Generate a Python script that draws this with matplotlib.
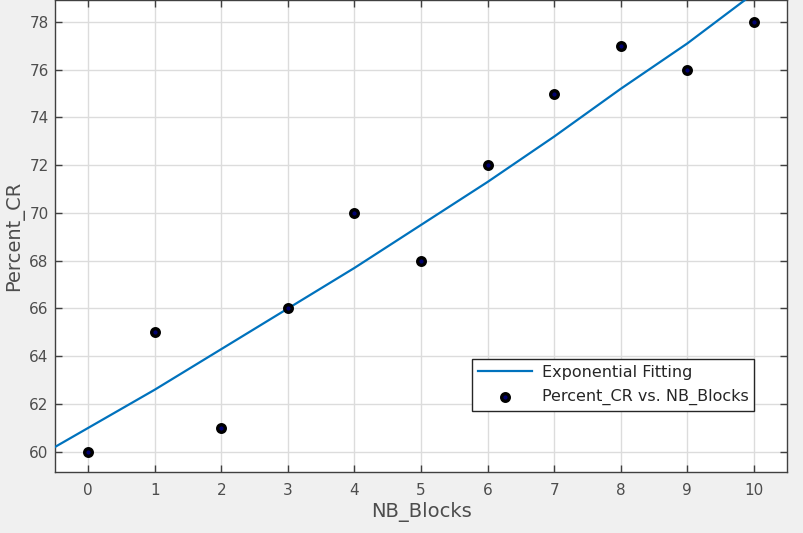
import matplotlib.pyplot as plt

# 散布データ
nb_blocks = [0, 1, 2, 3, 4, 5, 6, 7, 8, 9, 10]
percent_cr = [60, 65, 61, 66, 70, 68, 72, 75, 77, 76, 78]

# 指数フィット曲線
fit_x = [-0.5, 0, 1, 2, 3, 4, 5, 6, 7, 8, 9, 10]
fit_y = [60.2, 61.0, 62.6, 64.3, 66.0, 67.7, 69.5, 71.3, 73.2, 75.2, 77.1, 79.2]

x_ticks = [0, 1, 2, 3, 4, 5, 6, 7, 8, 9, 10]
y_ticks = [60, 62, 64, 66, 68, 70, 72, 74, 76, 78]

plt.rcParams['font.family'] = ['DejaVu Sans']

fig = plt.figure(figsize=(8.04, 5.33), dpi=100, facecolor='#f0f0f0')
ax = fig.add_axes([0.0684, 0.1144, 0.9106, 0.8856])

ax.plot(fit_x, fit_y, color='#0072bd', linewidth=1.6, label='Exponential Fitting', zorder=3)
ax.scatter(nb_blocks, percent_cr, s=30, facecolor='#000070', edgecolor='black',
           linewidths=2.4, label='Percent_CR vs. NB_Blocks', zorder=4)

ax.set_xlim(-0.5, 10.5)
ax.set_ylim(59.15, 78.92)
ax.set_xticks(x_ticks)
ax.set_yticks(y_ticks)

ax.grid(True, color='#dcdcdc', linewidth=1.0)
ax.set_axisbelow(True)
ax.tick_params(direction='in', top=True, right=True, length=5, width=1,
               colors='#404040', labelsize=11, labelcolor='#4d4d4d')
ax.tick_params(axis='x', pad=8)
ax.tick_params(axis='y', pad=4.5)
for s in ax.spines.values():
    s.set_color('#404040')
    s.set_linewidth(1.0)

ax.set_xlabel('NB_Blocks', fontsize=14, color='#4d4d4d', labelpad=3)
ax.set_ylabel('Percent_CR', fontsize=14, color='#4d4d4d', labelpad=4)

leg = ax.legend(loc='lower right', bbox_to_anchor=(0.955, 0.13), fontsize=11.5,
                frameon=True, fancybox=False, framealpha=1, edgecolor='#262626',
                borderpad=0.35, handlelength=3.4, labelspacing=0.55, borderaxespad=0,
                handletextpad=0.6)
leg.get_frame().set_linewidth(1.0)
for t in leg.get_texts():
    t.set_color('#262626')

fig.savefig('out.png', dpi=100, facecolor=fig.get_facecolor())
